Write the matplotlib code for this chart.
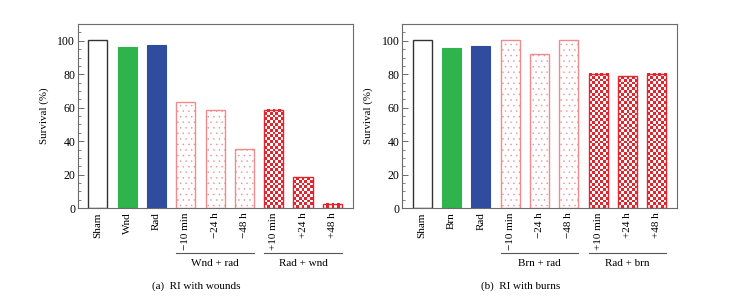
#!/usr/bin/env python3
"""Survival after radiation combined injury (RI) with wounds and burns."""

import matplotlib
matplotlib.use("Agg")
import matplotlib.pyplot as plt
import matplotlib.transforms as mtransforms
import numpy as np
from matplotlib.ticker import MultipleLocator

# ---- data ----
labels_wnd = ["Sham", "Wnd", "Rad", "\u221210 min", "\u221224 h", "\u221248 h",
              "+10 min", "+24 h", "+48 h"]
survival_wnd = [100.6, 96.2, 97.4, 63.5, 58.8, 35.5, 58.8, 18.3, 2.4]

labels_brn = ["Sham", "Brn", "Rad", "\u221210 min", "\u221224 h", "\u221248 h",
              "+10 min", "+24 h", "+48 h"]
survival_brn = [100.6, 96.0, 97.2, 100.6, 92.4, 100.6, 80.3, 78.7, 80.3]

groups_wnd = ["Wnd + rad", "Rad + wnd"]
groups_brn = ["Brn + rad", "Rad + brn"]
captions = ["(a)  RI with wounds", "(b)  RI with burns"]

# bar styles: 0 plain, 1 green, 2 blue, then dotted x3, checkered x3
styles = ["sham", "green", "blue", "dot", "dot", "dot", "check", "check", "check"]

GREEN = "#2fb34c"
BLUE = "#2f4c9f"
RED = "#e5232a"
PINK = "#f08a8c"
SPINE = "#6b6b6b"

plt.rcParams["font.family"] = ["Liberation Serif", "DejaVu Serif"]
plt.rcParams["hatch.linewidth"] = 0.3

fig = plt.figure(figsize=(7.33, 2.98), dpi=100)
ax_a = fig.add_axes([0.1064, 0.302, 0.375, 0.617])
ax_b = fig.add_axes([0.5490, 0.302, 0.375, 0.617])

WIDTH = 0.65


def draw_panel(ax, labels, values, groups, caption):
    x = np.arange(len(values))
    bars = []
    for xi, v, st in zip(x, values, styles):
        if st == "sham":
            b = ax.bar(xi, v, WIDTH, facecolor="white", edgecolor="#333333", linewidth=1.0)
        elif st == "green":
            b = ax.bar(xi, v, WIDTH, facecolor=GREEN, edgecolor=GREEN, linewidth=0.8)
        elif st == "blue":
            b = ax.bar(xi, v, WIDTH, facecolor=BLUE, edgecolor=BLUE, linewidth=0.8)
        elif st == "dot":
            b = ax.bar(xi, v, WIDTH, facecolor="white", edgecolor=PINK, linewidth=1.0,
                       hatch="...")
        else:
            b = ax.bar(xi, v, WIDTH, facecolor="white", edgecolor=RED, linewidth=1.0)
        bars.append((st, b[0]))

    ax.set_xlim(-0.675, 8.7)
    ax.set_ylim(0, 110)
    ax.yaxis.set_major_locator(MultipleLocator(20))
    ax.yaxis.set_minor_locator(MultipleLocator(5))
    ax.tick_params(axis="y", which="major", direction="in", length=4, width=0.7,
                   color=SPINE, labelsize=8.5, pad=2)
    ax.tick_params(axis="y", which="minor", direction="in", length=2.5, width=0.6,
                   color=SPINE)
    ax.tick_params(axis="x", length=0, labelsize=8, pad=3)
    ax.set_xticks(x)
    ax.set_xticklabels(labels, rotation=90, va="top")
    ax.set_ylabel("Survival (%)", fontsize=7.8, labelpad=6)
    for sp in ax.spines.values():
        sp.set_color(SPINE)
        sp.set_linewidth(0.8)

    # group brackets under the rotated labels
    trans = mtransforms.blended_transform_factory(ax.transData, ax.transAxes)
    for (lo, hi), name in zip([(3, 5), (6, 8)], groups):
        ax.plot([lo - WIDTH / 2, hi + WIDTH / 2], [-0.243, -0.243], transform=trans,
                color="#555555", linewidth=0.8, clip_on=False)
        ax.text((lo + hi) / 2, -0.300, name, transform=trans, ha="center", va="center",
                fontsize=8)
    ax.text(0.43, -0.425, caption, transform=ax.transAxes, ha="center", va="center",
            fontsize=8)
    return bars


bars_a = draw_panel(ax_a, labels_wnd, survival_wnd, groups_wnd, captions[0])
bars_b = draw_panel(ax_b, labels_brn, survival_brn, groups_brn, captions[1])

# checkerboard fill for the "Rad + ..." bars, clipped to each bar
fig.canvas.draw()
SQ = 2.8  # pixel size of one checker square
for ax, bars in [(ax_a, bars_a), (ax_b, bars_b)]:
    for st, patch in bars:
        if st != "check":
            continue
        bb = patch.get_window_extent()
        nx = max(1, int(round(bb.width / SQ)))
        ny = max(1, int(round(bb.height / SQ)))
        ii, jj = np.indices((ny, nx))
        board = ((ii + jj) % 2).astype(float)
        x0, y0 = patch.get_x(), patch.get_y()
        ax.imshow(board, cmap=matplotlib.colors.ListedColormap(["white", RED]),
                  extent=(x0, x0 + patch.get_width(), y0, y0 + patch.get_height()),
                  origin="lower", interpolation="nearest", aspect="auto",
                  clip_path=patch, zorder=patch.get_zorder() + 0.1)
        patch.set_zorder(patch.get_zorder() + 0.2)
        patch.set_facecolor("none")
    ax.set_xlim(-0.675, 8.7)
    ax.set_ylim(0, 110)

fig.savefig("out.png", dpi=100)
